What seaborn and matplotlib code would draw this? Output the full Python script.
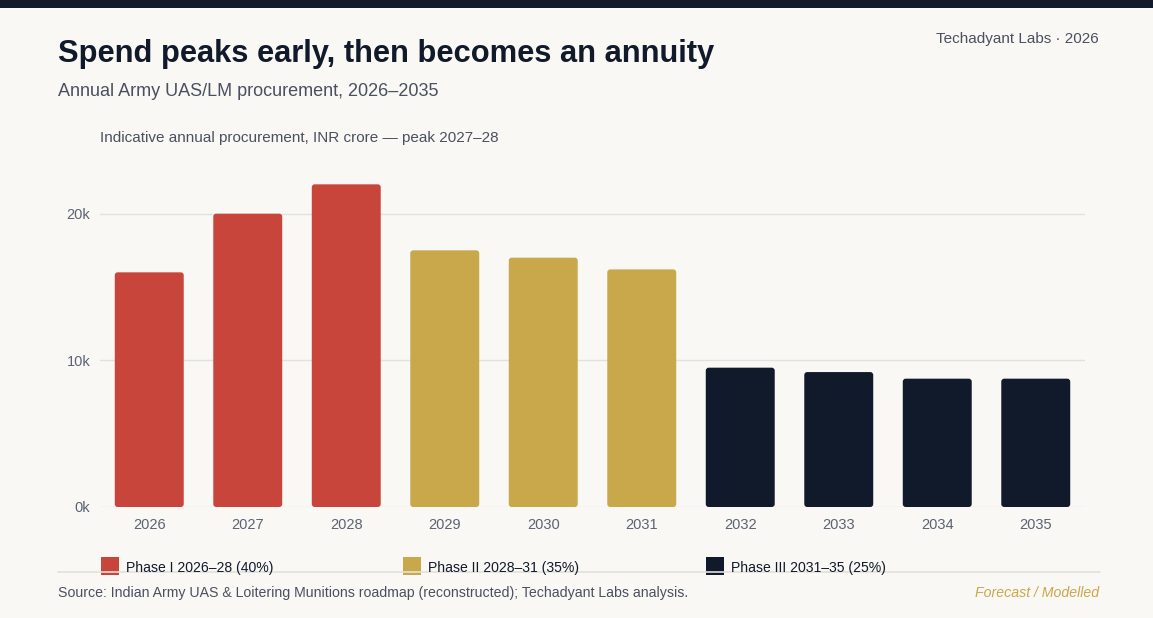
import matplotlib
matplotlib.use('Agg')
import pandas as pd
import seaborn as sns
import matplotlib.pyplot as plt
from matplotlib.patches import FancyBboxPatch, Rectangle

# chart data
years = ['2026', '2027', '2028', '2029', '2030', '2031', '2032', '2033', '2034', '2035']
spend = [16000, 20000, 22000, 17500, 17000, 16200, 9500, 9200, 8750, 8750]
phase = ['Phase I 2026–28 (40%)'] * 3 + ['Phase II 2028–31 (35%)'] * 3 + ['Phase III 2031–35 (25%)'] * 4
phase_names = ['Phase I 2026–28 (40%)', 'Phase II 2028–31 (35%)', 'Phase III 2031–35 (25%)']
phase_colors = ['#C8453B', '#C9A84C', '#111A2B']
y_ticks = [0, 10000, 20000]
y_labels = ['0k', '10k', '20k']

df = pd.DataFrame({'Year': years, 'Spend': spend, 'Phase': phase})

bg = '#F9F8F4'
sns.set_theme(style='white')
plt.rcParams['font.family'] = ['Liberation Sans', 'DejaVu Sans']

fig = plt.figure(figsize=(11.53, 6.18), dpi=100, facecolor=bg)
ax = fig.add_axes([100 / 1153, (618 - 507) / 618, 985 / 1153, (507 - 155) / 618])
ax.set_facecolor(bg)

sns.barplot(data=df, x='Year', y='Spend', hue='Phase', hue_order=phase_names,
            palette=phase_colors, dodge=False, width=0.7, saturation=1,
            legend=False, ax=ax)

# rounded corners on bars (~3px radius)
aspect = 24000 / 352 * 98.5
for p in list(ax.patches):
    if p.get_height() <= 0:
        continue
    x, y = p.get_x(), p.get_y()
    w, h = p.get_width(), p.get_height()
    fc = p.get_facecolor()
    p.remove()
    ax.add_patch(FancyBboxPatch((x, y), w, h, boxstyle='round,pad=0,rounding_size=0.03',
                                mutation_aspect=aspect,
                                facecolor=fc, edgecolor='none', zorder=3))

ax.set_xlim(-0.5, 9.5)
ax.set_ylim(0, 24000)
ax.set_yticks(y_ticks)
ax.set_yticklabels(y_labels)
ax.yaxis.grid(True, color='#E3E1DB', linewidth=1)
ax.set_axisbelow(True)
for s in ax.spines.values():
    s.set_visible(False)
ax.set_xlabel('')
ax.set_ylabel('')
ax.tick_params(axis='both', length=0, labelsize=10.5, labelcolor='#5C6373')
ax.tick_params(axis='x', pad=8)
ax.tick_params(axis='y', pad=7)

# header
fig.add_artist(Rectangle((0, 1 - 8 / 618), 1, 8 / 618, transform=fig.transFigure,
                         facecolor='#111A2B', edgecolor='none'))
fig.text(58 / 1153, 1 - 54 / 618, 'Spend peaks early, then becomes an annuity',
         fontsize=22.2, fontweight='bold', color='#111A2B', va='center')
fig.text(58 / 1153, 1 - 92 / 618, 'Annual Army UAS/LM procurement, 2026–2035',
         fontsize=13, color='#4A5060', va='center')
fig.text(1099 / 1153, 1 - 39 / 618, 'Techadyant Labs · 2026',
         fontsize=11, color='#4A5060', va='center', ha='right')
fig.text(100 / 1153, 1 - 138 / 618, 'Indicative annual procurement, INR crore — peak 2027–28',
         fontsize=11, color='#4A5060', va='center')

# legend
fig.add_artist(plt.Line2D([58 / 1153, 1100 / 1153], [1 - 572 / 618] * 2,
                          color='#E3E1DB', linewidth=1.2, transform=fig.transFigure))
for name, col, lx in zip(phase_names, phase_colors, [101, 403, 706]):
    fig.add_artist(Rectangle((lx / 1153, 1 - 575 / 618), 18 / 1153, 18 / 618,
                             transform=fig.transFigure, facecolor=col, edgecolor='none'))
    fig.text((lx + 25) / 1153, 1 - 568 / 618, name, fontsize=10.1, color='#111A2B', va='center')

# footer
fig.text(58 / 1153, 1 - 593 / 618,
         'Source: Indian Army UAS & Loitering Munitions roadmap (reconstructed); Techadyant Labs analysis.',
         fontsize=10.15, color='#4A5060', va='center')
fig.text(1099 / 1153, 1 - 593 / 618, 'Forecast / Modelled', fontsize=10.15, color='#C9A84C',
         style='italic', va='center', ha='right')

fig.savefig('out.png', dpi=100, facecolor=bg)
